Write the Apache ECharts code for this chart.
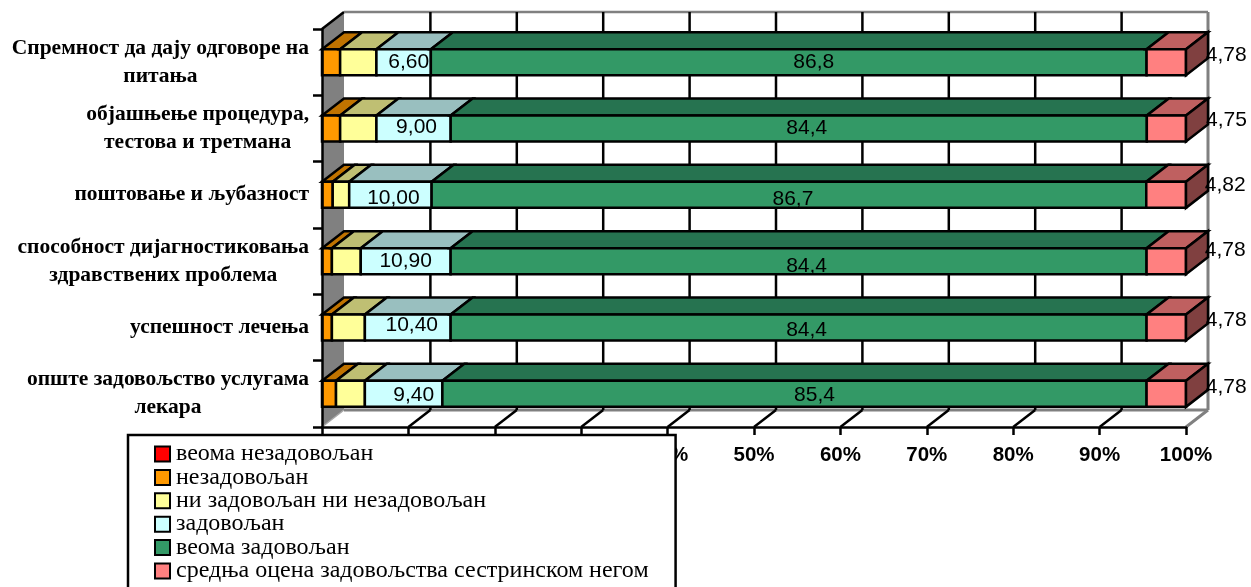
<!DOCTYPE html>
<html>
<head>
<meta charset="utf-8">
<style>html,body{margin:0;padding:0;background:#fff}#chart{width:1251px;height:587px}</style>
<script src="https://cdn.jsdelivr.net/npm/echarts@6/dist/echarts.min.js"></script>
</head>
<body>
<div id="chart"></div>
<script>
// Survey answers per question, top row first
const categories = [
  'Спремност да дају одговоре на\nпитања',
  'објашњење процедура,\nтестова и третмана',
  'поштовање и љубазност',
  'способност дијагностиковања\nздравствених проблема',
  'успешност лечења',
  'опште задовољство услугама\nлекара'
];
const veryDissatisfied = [0, 0, 0, 0, 0, 0];
const dissatisfied = [2.2, 2.2, 1.3, 1.2, 1.2, 1.7];
const neutral = [4.4, 4.4, 2.0, 3.5, 4.0, 3.5];
const satisfied = [6.6, 9.0, 10.0, 10.9, 10.4, 9.4];
const verySatisfied = [86.8, 84.4, 86.7, 84.4, 84.4, 85.4];
const averageScore = [4.78, 4.75, 4.82, 4.78, 4.78, 4.78];
const percentTicks = [0, 10, 20, 30, 40, 50, 60, 70, 80, 90, 100];

// Hand-placed value labels: nudges in pixels from the centre of each segment
const satisfiedNudgeX = [5, 3, 3, 0, 4, 10];
const satisfiedNudgeY = [0, -1, 3, 0, -2, 1];
const verySatisfiedNudgeX = [25, 8, 4, 8, 8, 20];
const verySatisfiedNudgeY = [0, 0, 4, 5, 3, 1];
const averageNudgeX = [60, 60, 59, 59, 60, 60];
const averageNudgeY = [-7, -8, -10, -11, -7, -7];

// Oblique projection of the box
const DEPTH_X = 22;
const DEPTH_Y = 17;
const BAR_FILL = 0.196;
const EDGE = 2.5;
const GREY = '#808080';
const comma = (v, digits) => v.toFixed(digits).replace('.', ',');

const seriesDefs = [
  { name: 'веома незадовољан', values: veryDissatisfied, face: '#FF0000', top: '#BF0000' },
  { name: 'незадовољан', values: dissatisfied, face: '#FF9900', top: '#C07300' },
  { name: 'ни задовољан ни незадовољан', values: neutral, face: '#FFFF99', top: '#BFBF73' },
  { name: 'задовољан', values: satisfied, face: '#CCFFFF', top: '#99BFBF', digits: 2, nx: satisfiedNudgeX, ny: satisfiedNudgeY },
  { name: 'веома задовољан', values: verySatisfied, face: '#339966', top: '#267350', digits: 1, nx: verySatisfiedNudgeX, ny: verySatisfiedNudgeY },
  { name: 'средња оцена задовољства сестринском негом', values: averageScore, face: '#FF8080', top: '#BF6060', side: '#804040', digits: 2, nx: averageNudgeX, ny: averageNudgeY }
];

// Each row is stacked to 100 % of its own total
const rowTotals = categories.map((_, i) => seriesDefs.reduce((s, d) => s + d.values[i], 0));
function segments(defIndex) {
  return categories.map((_, i) => {
    let before = 0;
    for (let k = 0; k < defIndex; k++) before += seriesDefs[k].values[i];
    const v = seriesDefs[defIndex].values[i];
    return [before / rowTotals[i] * 100, (before + v) / rowTotals[i] * 100, i, v];
  });
}

function poly(points, fill) {
  return { type: 'polygon', shape: { points }, style: { fill, stroke: '#000', lineWidth: EDGE, lineJoin: 'miter' } };
}

function renderBar(def) {
  return function (params, api) {
    const row = api.value(2);
    const value = api.value(3);
    if (!value) return null;
    const a = api.coord([api.value(0), row]);
    const b = api.coord([api.value(1), row]);
    const half = api.size([0, 1])[1] * BAR_FILL;
    const t = a[1] - half, u = a[1] + half;
    const children = [
      poly([[a[0], t], [a[0] + DEPTH_X, t - DEPTH_Y], [b[0] + DEPTH_X, t - DEPTH_Y], [b[0], t]], def.top),
      poly([[a[0], t], [b[0], t], [b[0], u], [a[0], u]], def.face)
    ];
    if (def.side) {
      children.push(poly([[b[0], t], [b[0] + DEPTH_X, t - DEPTH_Y], [b[0] + DEPTH_X, u - DEPTH_Y], [b[0], u]], def.side));
    }
    if (def.digits) {
      children.push({
        type: 'text',
        z2: 10,
        style: {
          text: comma(value, def.digits),
          x: (a[0] + b[0]) / 2 + def.nx[row],
          y: a[1] + def.ny[row],
          align: 'center',
          verticalAlign: 'middle',
          fill: '#000',
          font: '21px "Liberation Sans", Arial, sans-serif'
        }
      });
    }
    return { type: 'group', children };
  };
}

// Back wall, left wall, floor and the gridlines that run across them
function renderBox(params, api) {
  const v = api.value(0);
  const x = api.coord([v, 0])[0];
  const top = params.coordSys.y;
  const bottom = top + params.coordSys.height;
  const line = (x1, y1, x2, y2, stroke, lineWidth) => ({
    type: 'line', shape: { x1, y1, x2, y2 }, style: { stroke, lineWidth }
  });
  const children = [];
  if (v === percentTicks[0]) {
    children.push({
      type: 'polygon',
      shape: { points: [[x, top], [x + DEPTH_X, top - DEPTH_Y], [x + DEPTH_X, bottom - DEPTH_Y], [x, bottom]] },
      style: { fill: GREY }
    });
    children.push(line(x, top, x + DEPTH_X, top - DEPTH_Y, '#000', EDGE));
    children.push(line(x, bottom, x + DEPTH_X, bottom - DEPTH_Y, '#a8a8a8', 1.5));
    const right = api.coord([percentTicks[percentTicks.length - 1], 0])[0];
    children.push(line(x + DEPTH_X, top - DEPTH_Y, right + DEPTH_X, top - DEPTH_Y, GREY, 2.5));
    children.push(line(x + DEPTH_X, bottom - DEPTH_Y, right + DEPTH_X, bottom - DEPTH_Y, GREY, 3));
  } else if (v === percentTicks[percentTicks.length - 1]) {
    children.push(line(x + DEPTH_X, top - DEPTH_Y, x + DEPTH_X, bottom - DEPTH_Y, GREY, 3));
    children.push(line(x, bottom, x + DEPTH_X, bottom - DEPTH_Y, GREY, 3));
  } else {
    children.push(line(x + DEPTH_X, top - DEPTH_Y, x + DEPTH_X, bottom - DEPTH_Y, '#000', EDGE));
    children.push(line(x, bottom, x + DEPTH_X, bottom - DEPTH_Y, '#000', EDGE));
  }
  return { type: 'group', children };
}

const chart = echarts.init(document.getElementById('chart'), null, { renderer: 'canvas' });
chart.setOption({
  animation: false,
  backgroundColor: '#fff',
  grid: { left: 322, right: 65, top: 29, bottom: 160 },
  xAxis: {
    type: 'value',
    min: 0,
    max: 100,
    interval: 10,
    z: 5,
    splitLine: { show: false },
    axisLine: { show: true, lineStyle: { color: '#000', width: EDGE } },
    axisTick: { show: true, length: 8, lineStyle: { color: '#000', width: EDGE } },
    axisLabel: {
      formatter: '{value}%',
      margin: 18,
      color: '#000',
      fontSize: 20.5,
      fontWeight: 'bold',
      fontFamily: '"Liberation Sans", Arial, sans-serif'
    }
  },
  yAxis: {
    type: 'category',
    inverse: true,
    data: categories,
    z: 5,
    axisLine: { show: true, lineStyle: { color: '#000', width: EDGE } },
    axisTick: { show: true, length: 9, lineStyle: { color: '#000', width: EDGE } },
    axisLabel: {
      interval: 0,
      margin: 13,
      formatter: (text) => text.split('\n').map((l) => '{c|' + l + '}').join('\n'),
      rich: {
        c: {
          align: 'center',
          color: '#000',
          fontSize: 21.5,
          lineHeight: 28,
          fontWeight: 'bold',
          fontFamily: '"Liberation Serif", "Times New Roman", serif'
        }
      }
    }
  },
  legend: {
    show: true,
    orient: 'vertical',
    left: 128,
    top: 435,
    height: 400,
    z: 10,
    backgroundColor: '#fff',
    borderColor: '#000',
    borderWidth: 2.5,
    borderRadius: 0,
    padding: [7, 27, 30, 26],
    itemWidth: 15,
    itemHeight: 15,
    itemGap: -0.6,
    icon: 'rect',
    selectedMode: false,
    data: seriesDefs.map((d) => d.name),
    textStyle: {
      color: '#000',
      fontSize: 24,
      padding: [0, 0, 0, 1],
      fontFamily: '"Liberation Serif", "Times New Roman", serif'
    }
  },
  series: [
    {
      type: 'custom',
      name: 'box',
      silent: true,
      z: 1,
      data: percentTicks.map((t) => [t, 0]),
      encode: { x: 0, y: 1 },
      renderItem: renderBox
    }
  ].concat(seriesDefs.map((def, i) => ({
    type: 'custom',
    name: def.name,
    z: 2,
    itemStyle: { color: def.face, borderColor: '#000', borderWidth: 2.5 },
    data: segments(i),
    encode: { x: [0, 1], y: 2 },
    renderItem: renderBar(def)
  })))
});
</script>
</body>
</html>
